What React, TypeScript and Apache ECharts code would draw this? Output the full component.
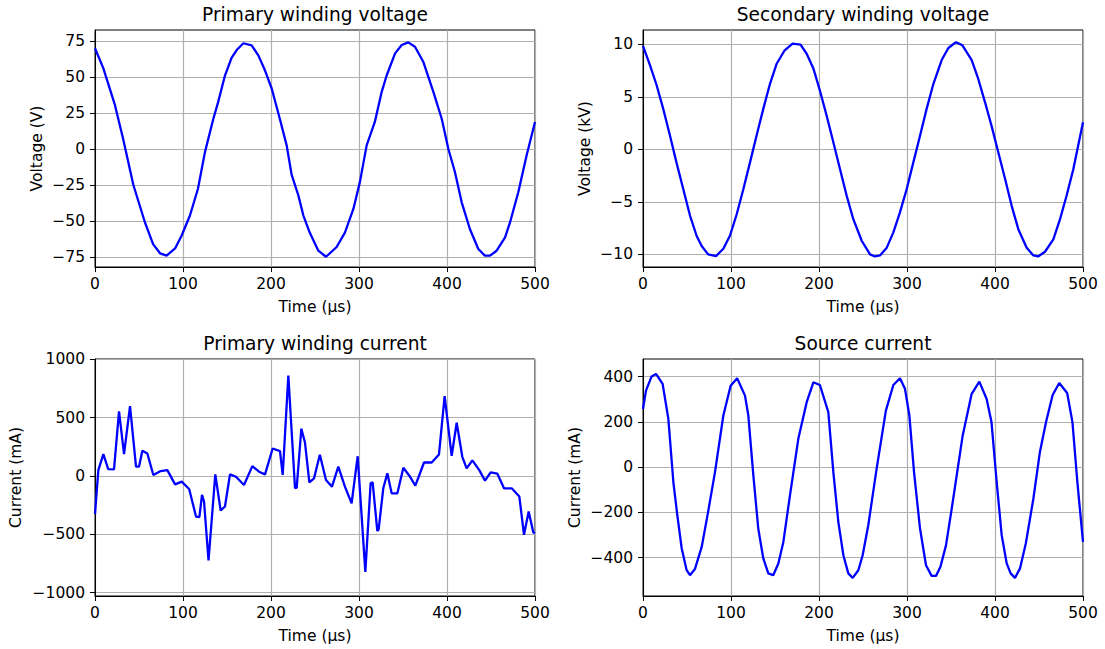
import React, { useEffect, useRef } from "react";
import * as echarts from "echarts";

// ---- Data ----
const primaryVoltageTime = [0, 9.5, 22.7, 32, 43.6, 56.8, 66, 73.9, 81.4, 91, 98.5, 108, 117, 125, 134.5, 140, 147.7, 155, 161, 168.6, 178, 185.6, 193, 200.8, 210, 217.8, 223.5, 231, 236.7, 244, 253.8, 262.5, 274.6, 284, 293.6, 301, 308.7, 318, 325.8, 331.4, 341, 348.5, 356, 363.6, 373, 384.5, 394, 401.5, 409, 416.7, 426, 435.6, 443, 448.9, 456.4, 466, 471.6, 481, 490.5, 500];
const primaryVoltage = [69.9, 56, 30.4, 7, -25, -51, -66, -72.4, -74, -69, -60, -46, -27.6, -2, 21, 32.7, 51, 63, 68.7, 73.4, 72, 65, 54.8, 42, 21, 2.5, -18, -32, -46, -58, -70.6, -74.8, -68, -58, -41.6, -23, 2.5, 18.8, 39.7, 51, 66.4, 72.2, 74, 71, 60.6, 39.7, 21, 0.2, -16, -37, -55.5, -69.4, -74, -74, -70.6, -61.3, -51, -30, -4.4, 18.8];

const secondaryVoltageTime = [0, 8, 15.5, 23, 30.7, 38, 45.8, 53.4, 61, 66.7, 74, 83, 91.3, 98.9, 106.4, 114, 121.6, 129, 136.7, 144.3, 151.9, 161, 170, 179, 186, 193.6, 201, 208.7, 216.3, 223.9, 231.4, 239, 248.5, 258, 263.6, 269.3, 277, 284.5, 292, 299.6, 307.2, 314.8, 322.3, 330, 339.4, 347, 355.7, 363, 373.5, 381, 388.6, 396, 403.8, 411.4, 419, 426.5, 436, 443.6, 449, 456.8, 466.3, 473.9, 481.4, 489, 500];
const secondaryVoltage = [9.84, 8.0, 6.1, 3.85, 1.3, -1.24, -3.8, -6.3, -8.25, -9.2, -10, -10.16, -9.46, -8.2, -6.2, -3.8, -1.24, 1.3, 3.85, 6.24, 8.15, 9.43, 10.06, 9.97, 9.1, 7.7, 5.6, 3.2, 0.67, -1.9, -4.4, -6.65, -8.7, -10, -10.2, -10.1, -9.36, -7.9, -6.0, -3.8, -1.24, 1.3, 3.85, 6.24, 8.5, 9.65, 10.2, 9.9, 8.5, 6.7, 4.5, 2.26, -0.3, -2.8, -5.4, -7.6, -9.36, -10.1, -10.2, -9.75, -8.57, -6.65, -4.4, -1.9, 2.58];

const primaryCurrentTime = [0, 3.8, 9.5, 15, 21.6, 27.3, 33, 39.8, 46.6, 50, 53.8, 59.5, 66.3, 74.6, 82.2, 91, 98.5, 107, 114.8, 118.6, 121.6, 123.9, 129, 136.7, 142.8, 147.7, 153.4, 160.2, 169.3, 178.8, 186.4, 193.2, 201.9, 210.2, 213.3, 219.7, 227.3, 229.2, 234.5, 238.6, 243.6, 248.9, 255.5, 262.5, 269.3, 276.5, 284, 291.6, 298.5, 307.2, 313.2, 315.5, 320.8, 322.3, 327.6, 332.2, 337.1, 343.6, 350.4, 357.2, 364, 373.9, 382.6, 390.9, 397.3, 405.3, 411, 417.4, 422.3, 428.8, 436.7, 443.2, 449.6, 457.2, 464.8, 473.5, 482.2, 487.5, 492.8, 498.1, 500];
const primaryCurrent = [-327, 51, 187, 60, 57, 554, 187, 600, 80, 80, 216, 193, 9, 43, 51, -71, -48, -111, -347, -352, -162, -219, -724, 14, -295, -261, 14, -6, -77, 85, 37, 14, 236, 213, 9, 861, -105, -99, 406, 287, -54, -20, 182, -34, -91, 80, -91, -233, 170, -821, -63, -54, -469, -460, -105, 23, -148, -148, 71, 3, -82, 116, 116, 185, 685, 173, 457, 165, 65, 134, 51, -40, 31, 20, -105, -105, -176, -503, -304, -483, -489];

const sourceCurrentTime = [0, 3.4, 9.8, 14.8, 22.3, 28.8, 34.5, 39, 44, 49.6, 53.4, 59, 66.7, 74, 81.8, 91.3, 99.6, 107, 115.9, 119.7, 125.4, 131, 136.7, 142.4, 148, 153.8, 159.5, 167, 176.5, 186, 193.6, 201, 210.6, 216.3, 222, 227.7, 233.3, 238.3, 244.7, 249.6, 256, 265.5, 276, 284.5, 292, 297.7, 302.7, 308, 314.8, 321.6, 328, 333, 338, 344.3, 350.8, 363.3, 373.5, 382.2, 390.5, 396, 401.9, 407.6, 413.3, 417.8, 422.7, 428.4, 435, 443.6, 451, 458, 465.5, 473, 482, 488, 493.6, 500];
const sourceCurrent = [257, 338, 401, 412, 368, 213, -66, -213, -360, -456, -478, -451, -353, -198, -22, 228, 360, 393, 316, 228, -37, -272, -404, -470, -478, -426, -331, -125, 125, 287, 375, 363, 243, -22, -243, -390, -470, -490, -456, -390, -257, -7, 250, 363, 393, 346, 228, -22, -272, -434, -481, -481, -441, -346, -184, 140, 324, 378, 301, 199, -66, -301, -426, -470, -490, -448, -338, -140, 66, 199, 319, 372, 328, 199, -66, -331];

const timeTicks = [0, 100, 200, 300, 400, 500];
const primaryVoltageTicks = [-75, -50, -25, 0, 25, 50, 75];
const secondaryVoltageTicks = [-10, -5, 0, 5, 10];
const primaryCurrentTicks = [-1000, -500, 0, 500, 1000];
const sourceCurrentTicks = [-400, -200, 0, 200, 400];

const titles = ["Primary winding voltage", "Secondary winding voltage", "Primary winding current", "Source current"];
const yNames = ["Voltage (V)", "Voltage (kV)", "Current (mA)", "Current (mA)"];
const xName = "Time (\u00b5s)";

const FONT = "DejaVu Sans";
const LABEL_SIZE = 15.5;
const TITLE_SIZE = 18.6;

const fmt = (v: number) => (v < 0 ? "\u2212" + Math.abs(v) : String(v));

export default function App() {
  const ref = useRef<HTMLDivElement>(null);
  useEffect(() => {
    if (!ref.current) return;
    const chart = echarts.init(ref.current, undefined, { renderer: "svg" });

    const grids = [
      { left: 95, top: 30, width: 440, height: 237 },
      { left: 643, top: 30, width: 440, height: 237 },
      { left: 95, top: 359, width: 440, height: 237 },
      { left: 643, top: 359, width: 440, height: 237 },
    ];
    const yRanges = [
      [-81.9, 82.6],
      [-11.2, 11.36],
      [-1028, 1003],
      [-570, 478],
    ];
    const yTicks = [primaryVoltageTicks, secondaryVoltageTicks, primaryCurrentTicks, sourceCurrentTicks];
    const yNameGaps = [50, 50, 71, 60];
    const seriesData = [
      [primaryVoltageTime, primaryVoltage],
      [secondaryVoltageTime, secondaryVoltage],
      [primaryCurrentTime, primaryCurrent],
      [sourceCurrentTime, sourceCurrent],
    ];

    const option: any = {
      animation: false,
      backgroundColor: "#fff",
      title: grids.map((g, i) => ({
        text: titles[i],
        left: g.left + g.width / 2,
        top: g.top - 25,
        padding: 0,
        textAlign: "center",
        textStyle: { fontSize: TITLE_SIZE, fontWeight: "normal", color: "#000", fontFamily: FONT },
      })),
      grid: grids.map((g) => ({
        ...g,
        show: true,
        borderColor: "#000",
        borderWidth: 1,
        backgroundColor: "transparent",
        containLabel: false,
      })),
      xAxis: grids.map((_, i) => ({
        type: "value",
        gridIndex: i,
        min: 0,
        max: 500,
        interval: 100,
        name: xName,
        nameLocation: "middle",
        nameGap: 32,
        nameTextStyle: { fontSize: LABEL_SIZE, color: "#000", fontFamily: FONT },
        axisLine: { show: true, onZero: false, lineStyle: { color: "#000", width: 1 } },
        axisTick: { show: true, length: 5, lineStyle: { color: "#000", width: 1 }, customValues: timeTicks },
        axisLabel: { fontSize: LABEL_SIZE, color: "#000", fontFamily: FONT, margin: 9, customValues: timeTicks, formatter: fmt },
        splitLine: { show: true, lineStyle: { color: "#b0b0b0", width: 1.2 } },
      })),
      yAxis: grids.map((_, i) => ({
        type: "value",
        gridIndex: i,
        min: yRanges[i][0],
        max: yRanges[i][1],
        name: yNames[i],
        nameLocation: "middle",
        nameGap: yNameGaps[i],
        nameTextStyle: { fontSize: LABEL_SIZE, color: "#000", fontFamily: FONT },
        axisLine: { show: true, onZero: false, lineStyle: { color: "#000", width: 1 } },
        axisTick: { show: true, length: 5, lineStyle: { color: "#000", width: 1 }, customValues: yTicks[i] },
        axisLabel: { fontSize: LABEL_SIZE, color: "#000", fontFamily: FONT, margin: 10, customValues: yTicks[i], formatter: fmt },
        splitLine: { show: true, lineStyle: { color: "#b0b0b0", width: 1.2 } },
      })),
      series: seriesData.map(([t, v], i) => ({
        type: "line",
        xAxisIndex: i,
        yAxisIndex: i,
        showSymbol: false,
        symbol: "none",
        clip: true,
        lineStyle: { color: "#0000ff", width: 2.3 },
        data: t.map((x, k) => [x, v[k]]),
      })),
    };
    chart.setOption(option);
    return () => chart.dispose();
  }, []);
  return (
    <div
      ref={ref}
      style={{ position: "absolute", left: 0, top: 0, width: 1105, height: 649, background: "#fff" }}
    />
  );
}
